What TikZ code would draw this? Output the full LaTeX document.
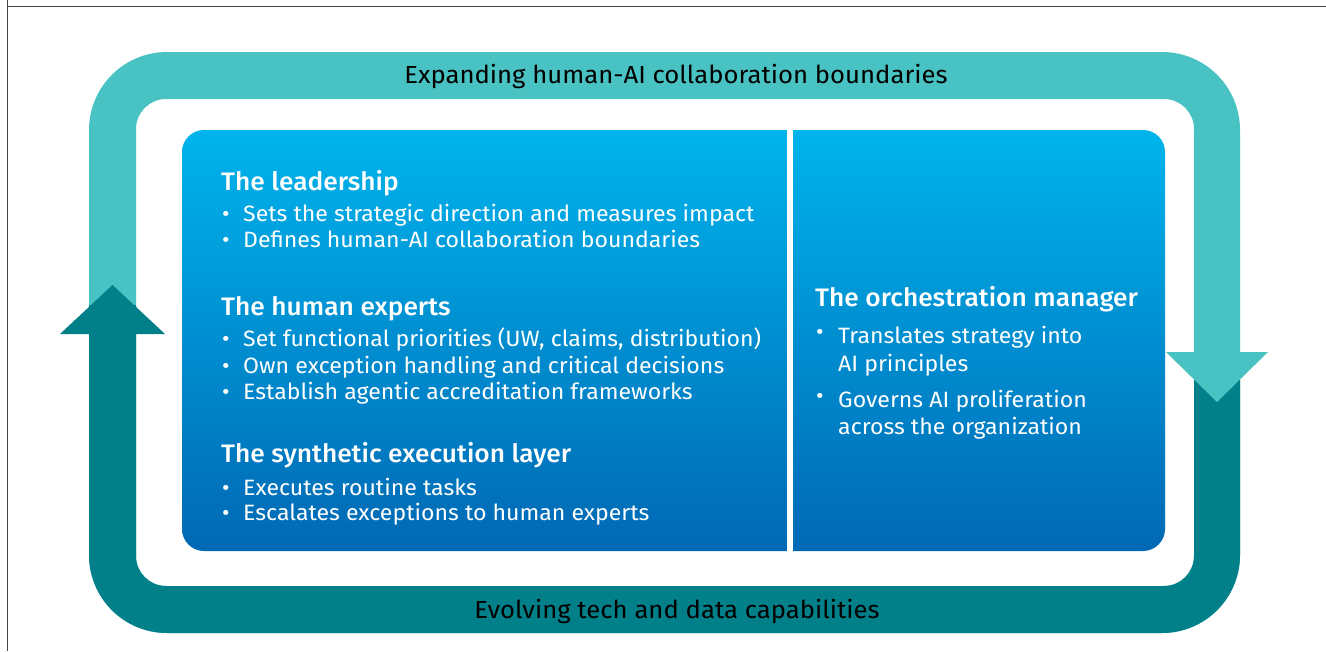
\documentclass[tikz,border=0pt]{standalone}
\usepackage{fontspec}
\setmainfont{Fira Sans}[BoldFont={* Medium}, FakeStretch=1.04]
\definecolor{lightteal}{RGB}{72,194,194}
\definecolor{darkteal}{RGB}{2,128,138}
\definecolor{bluetop}{RGB}{0,180,236}
\definecolor{bluebot}{RGB}{0,104,180}
\definecolor{framec}{RGB}{70,70,70}
\newcommand{\bul}{\makebox[22pt][l]{\hspace{1pt}\textbullet}}
\newcommand{\rbul}{\makebox[23pt][l]{\hspace{1pt}\raisebox{4pt}{\textbullet}}}
\begin{document}
\begin{tikzpicture}[x=1pt,y=-1pt,
  bandtext/.style={inner sep=0pt, text=black, font=\fontsize{24.7}{28}\selectfont},
  headtext/.style={inner sep=0pt, anchor=base west, text=white, font=\bfseries\fontsize{25.3}{28}\selectfont},
  bultext/.style={inner sep=0pt, anchor=base west, text=white, font=\fontsize{22.2}{26}\selectfont}]
\useasboundingbox (0,0) rectangle (1326,651);
\fill[white] (0,0) rectangle (1326,651);
% frame lines
\draw[framec, line width=1.5pt] (7.5,0) -- (7.5,651);
\draw[framec, line width=1.5pt] (7.5,6.5) -- (1326,6.5);
% light loop
\fill[lightteal, even odd rule] [rounded corners=78pt] (89,52) rectangle (1240,633) [rounded corners=30pt] (136,99) rectangle (1194,586);
% dark part of loop
\begin{scope}
\clip (0,305) -- (663,305) -- (663,380) -- (1326,380) -- (1326,651) -- (0,651) -- cycle;
\fill[darkteal, even odd rule] [rounded corners=78pt] (89,52) rectangle (1240,633) [rounded corners=30pt] (136,99) rectangle (1194,586);
\end{scope}
% arrowheads
\fill[darkteal] (60,334) -- (112.5,285) -- (165,334) -- cycle;
\fill[lightteal] (1166,352) -- (1268,352) -- (1217,402) -- cycle;
% blue panel
\shade[top color=bluetop, bottom color=bluebot, rounded corners=22pt] (182,130) rectangle (1165,551);
\fill[white] (787,128) rectangle (793,553);
% band labels
\node[bandtext, anchor=base] (t1) at (676,83) {Expanding human-AI collaboration boundaries};
\node[bandtext, anchor=base] (t2) at (677,618) {Evolving tech and data capabilities};
% left panel
\node[headtext] (h1) at (221,190) {The leadership};
\node[bultext] (b11) at (221,221) {\bul Sets the strategic direction and measures impact};
\node[bultext] (b12) at (221,247) {\bul Defines human-AI collaboration boundaries};
\node[headtext] (h2) at (221,315) {The human experts};
\node[bultext] (b21) at (221,346) {\bul Set functional priorities (UW, claims, distribution)};
\node[bultext] (b22) at (221,373) {\bul Own exception handling and critical decisions};
\node[bultext] (b23) at (221,399) {\bul Establish agentic accreditation frameworks};
\node[headtext] (h3) at (221,462) {The synthetic execution layer};
\node[bultext] (b31) at (221,495) {\bul Executes routine tasks};
\node[bultext] (b32) at (221,520) {\bul Escalates exceptions to human experts};
% right panel
\node[headtext] (h4) at (815,306) {The orchestration manager};
\node[bultext] (b41) at (815,343) {\rbul Translates strategy into};
\node[bultext] (b42) at (838,371) {AI principles};
\node[bultext] (b43) at (815,407) {\rbul Governs AI proliferation};
\node[bultext] (b44) at (838,434) {across the organization};
\end{tikzpicture}
\end{document}
